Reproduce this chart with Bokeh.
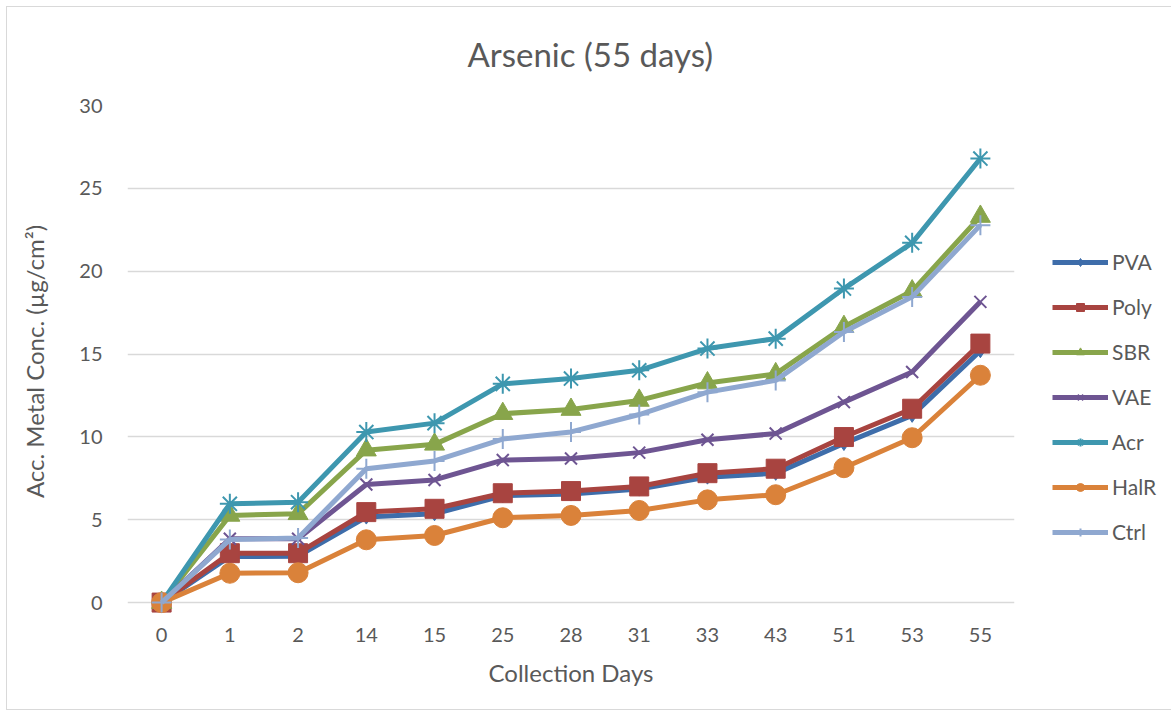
from bokeh.plotting import figure
from bokeh.models import Range1d, FactorRange, FixedTicker, Legend, LegendItem
from bokeh.embed import file_html
from bokeh.resources import INLINE

days = ["0", "1", "2", "14", "15", "25", "28", "31", "33", "43", "51", "53", "55"]
pva = [0, 2.78, 2.8, 5.16, 5.36, 6.45, 6.55, 6.85, 7.57, 7.8, 9.6, 11.3, 15.2]
poly = [0, 2.98, 2.98, 5.46, 5.66, 6.6, 6.73, 7.01, 7.81, 8.08, 9.99, 11.7, 15.63]
sbr = [0, 5.26, 5.36, 9.2, 9.55, 11.4, 11.65, 12.2, 13.25, 13.8, 16.65, 18.8, 23.3]
vae = [0, 3.85, 3.85, 7.13, 7.4, 8.6, 8.7, 9.05, 9.83, 10.2, 12.1, 13.92, 18.15]
acr = [0, 5.96, 6.06, 10.29, 10.83, 13.2, 13.52, 14.02, 15.33, 15.93, 18.95, 21.71, 26.8]
halr = [0, 1.77, 1.8, 3.79, 4.05, 5.12, 5.26, 5.56, 6.2, 6.51, 8.14, 9.95, 13.72]
ctrl = [0, 3.8, 3.9, 8.08, 8.55, 9.87, 10.3, 11.35, 12.7, 13.41, 16.33, 18.45, 22.78]

series = [
    ("PVA", pva, "#3E6DAA", "diamond", 14),
    ("Poly", poly, "#A84440", "square", 19),
    ("SBR", sbr, "#88A54B", "triangle", 20),
    ("VAE", vae, "#6E5592", "x", 17),
    ("Acr", acr, "#3E97AF", "asterisk", 20),
    ("HalR", halr, "#DA823A", "circle", 20),
    ("Ctrl", ctrl, "#8FA8D0", "cross", 20),
]

FONT = "Lato"
GREY = "#595959"

p = figure(frame_width=887, frame_height=512, output_backend="svg", toolbar_location=None,
           x_range=FactorRange(*days, range_padding=0),
           y_range=Range1d(-0.9, 30),
           min_border_left=127, min_border_right=157,
           min_border_top=105, min_border_bottom=98)
p.stylesheets = [
    ":host::after { content: ''; position: absolute; left: 6px; top: 6px; "
    "right: 5px; bottom: 5px; border: 1.5px solid #D9D9D9; "
    "pointer-events: none; z-index: 100; }"
]

p.title.text = "Arsenic (55 days)"
p.title.text_font = FONT
p.title.text_font_size = "33px"
p.title.text_font_style = "normal"
p.title.text_color = GREY
p.title.align = "left"
p.title.offset = 340
p.title.standoff = 63

p.outline_line_color = None
p.xgrid.grid_line_color = None
p.ygrid.grid_line_color = "#D9D9D9"
p.ygrid.grid_line_width = 1.3
p.yaxis.ticker = FixedTicker(ticks=[0, 5, 10, 15, 20, 25, 30])

for ax in (p.xaxis[0], p.yaxis[0]):
    ax.axis_line_color = None
    ax.major_tick_line_color = None
    ax.minor_tick_line_color = None
    ax.major_label_text_font = FONT
    ax.major_label_text_font_size = "20px"
    ax.major_label_text_color = GREY
    ax.axis_label_text_font = FONT
    ax.axis_label_text_font_size = "24px"
    ax.axis_label_text_font_style = "normal"
    ax.axis_label_text_color = GREY

p.xaxis.axis_label = "Collection Days"
p.xaxis.major_label_standoff = 4
p.xaxis.axis_label_standoff = 13
p.yaxis.axis_label = "Acc. Metal Conc. (µg/cm²)"
p.yaxis.major_label_standoff = 19
p.yaxis.axis_label_standoff = 27

items = []
for name, vals, color, marker, size in series:
    r1 = p.line(days, vals, line_color=color, line_width=5)
    fill = color if marker in ("diamond", "square", "triangle", "circle") else None
    r2 = p.scatter(days, vals, marker=marker, size=size, line_color=color,
                   fill_color=fill, line_width=2 if fill is None else 1)
    items.append(LegendItem(label=name, renderers=[r1, r2]))

legend = Legend(items=items, location=(38, 73), glyph_width=56, glyph_height=20,
                spacing=20, label_standoff=4, padding=10, margin=0,
                label_text_font=FONT, label_text_font_size="21px",
                label_text_color=GREY, border_line_color=None,
                background_fill_alpha=0)
p.add_layout(legend, "right")

open("out.html", "w").write(file_html(p, INLINE))
